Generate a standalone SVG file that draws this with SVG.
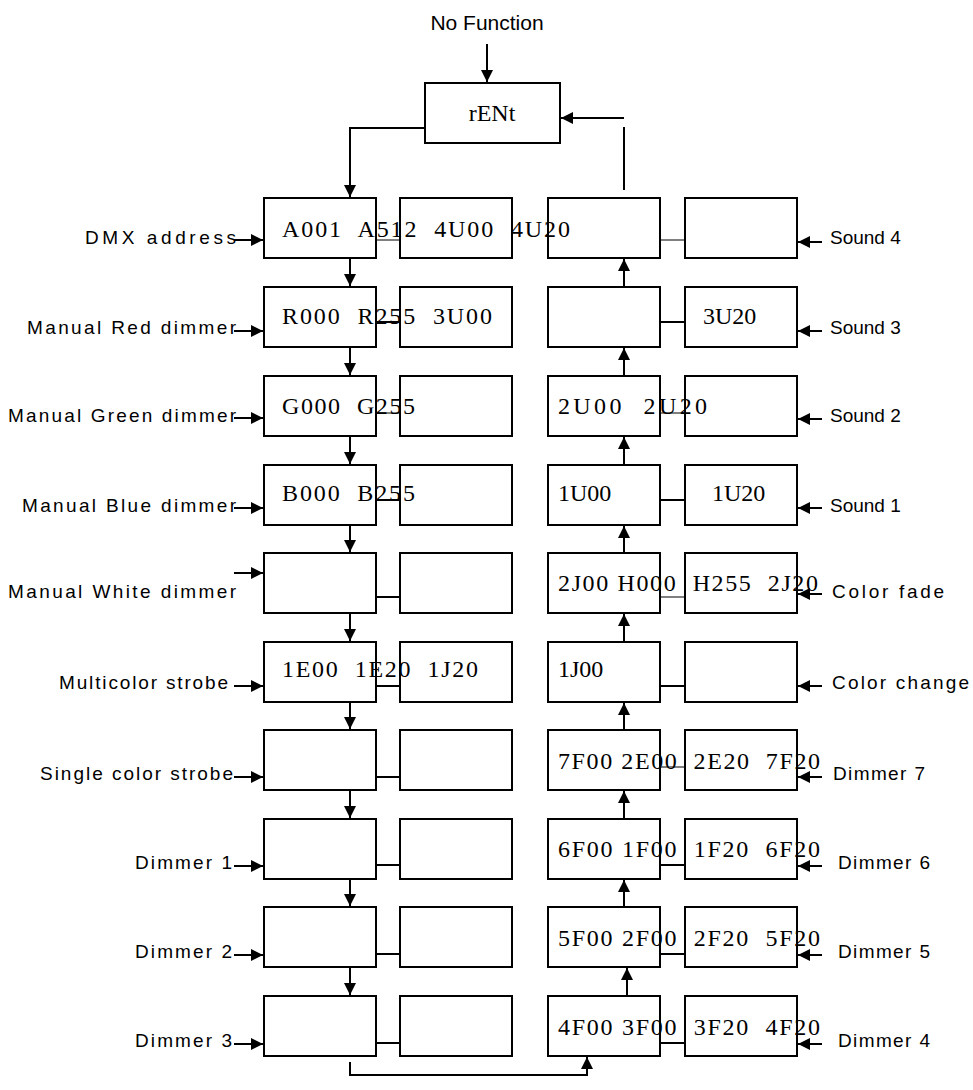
<svg xmlns="http://www.w3.org/2000/svg" width="973" height="1090" viewBox="0 0 973 1090">
<defs><marker id="b" viewBox="0 0 10 10" refX="10" refY="5" markerWidth="12" markerHeight="12" markerUnits="userSpaceOnUse" orient="auto"><path d="M0,0L10,5L0,10z" fill="#000"/></marker></defs>
<style>
rect{fill:#fff;stroke:#000;stroke-width:2}
.v{font-family:"Liberation Serif",serif;font-size:24px;white-space:pre}
.l{font-family:"Liberation Sans",sans-serif;font-size:19px}
.c{stroke:#000;stroke-width:2;fill:none}
.t{stroke:#000;stroke-width:1;fill:none}
</style>
<rect width="973" height="1090" style="fill:#fff;stroke:none"/>
<text class="l" x="487" y="30" text-anchor="middle" style="font-size:21px">No Function</text>
<g id="rent"><rect x="425" y="83" width="135" height="60"/><text class="v" x="492" y="121" text-anchor="middle">rENt</text></g>
<g id="nodes">
<rect x="264" y="198" width="112" height="60"/><rect x="400" y="198" width="112" height="60"/><rect x="548" y="198" width="112" height="60"/><rect x="685" y="198" width="112" height="60"/>
<rect x="264" y="287" width="112" height="60"/><rect x="400" y="287" width="112" height="60"/><rect x="548" y="287" width="112" height="60"/><rect x="685" y="287" width="112" height="60"/>
<rect x="264" y="376" width="112" height="60"/><rect x="400" y="376" width="112" height="60"/><rect x="548" y="376" width="112" height="60"/><rect x="685" y="376" width="112" height="60"/>
<rect x="264" y="465" width="112" height="60"/><rect x="400" y="465" width="112" height="60"/><rect x="548" y="465" width="112" height="60"/><rect x="685" y="465" width="112" height="60"/>
<rect x="264" y="553" width="112" height="60"/><rect x="400" y="553" width="112" height="60"/><rect x="548" y="553" width="112" height="60"/><rect x="685" y="553" width="112" height="60"/>
<rect x="264" y="642" width="112" height="60"/><rect x="400" y="642" width="112" height="60"/><rect x="548" y="642" width="112" height="60"/><rect x="685" y="642" width="112" height="60"/>
<rect x="264" y="730" width="112" height="60"/><rect x="400" y="730" width="112" height="60"/><rect x="548" y="730" width="112" height="60"/><rect x="685" y="730" width="112" height="60"/>
<rect x="264" y="819" width="112" height="60"/><rect x="400" y="819" width="112" height="60"/><rect x="548" y="819" width="112" height="60"/><rect x="685" y="819" width="112" height="60"/>
<rect x="264" y="907" width="112" height="60"/><rect x="400" y="907" width="112" height="60"/><rect x="548" y="907" width="112" height="60"/><rect x="685" y="907" width="112" height="60"/>
<rect x="264" y="996" width="112" height="60"/><rect x="400" y="996" width="112" height="60"/><rect x="548" y="996" width="112" height="60"/><rect x="685" y="996" width="112" height="60"/>
</g>
<g id="values">
<text class="v" x="282" y="237" textLength="288" lengthAdjust="spacing">A001  A512  4U00  4U20</text>
<text class="v" x="282" y="324" textLength="210" lengthAdjust="spacing">R000  R255  3U00</text>
<text class="v" x="703" y="324">3U20</text>
<text class="v" x="282" y="414" textLength="133" lengthAdjust="spacing">G000  G255</text>
<text class="v" x="558" y="414" textLength="149" lengthAdjust="spacing">2U00  2U20</text>
<text class="v" x="282" y="501" textLength="133" lengthAdjust="spacing">B000  B255</text>
<text class="v" x="558" y="501">1U00</text>
<text class="v" x="712" y="501">1U20</text>
<text class="v" x="558" y="591" textLength="260" lengthAdjust="spacing">2J00 H000  H255  2J20</text>
<text class="v" x="282" y="677" textLength="196" lengthAdjust="spacing">1E00  1E20  1J20</text>
<text class="v" x="558" y="677">1J00</text>
<text class="v" x="558" y="769" textLength="262" lengthAdjust="spacing">7F00 2E00  2E20  7F20</text>
<text class="v" x="558" y="857" textLength="262" lengthAdjust="spacing">6F00 1F00  1F20  6F20</text>
<text class="v" x="558" y="946" textLength="262" lengthAdjust="spacing">5F00 2F00  2F20  5F20</text>
<text class="v" x="558" y="1035" textLength="262" lengthAdjust="spacing">4F00 3F00  3F20  4F20</text>
</g>
<g id="labels">
<text class="l" x="85" y="244" textLength="151">DMX address</text>
<text class="l" x="27" y="334" textLength="209">Manual Red dimmer</text>
<text class="l" x="8" y="422" textLength="228">Manual Green dimmer</text>
<text class="l" x="22" y="512" textLength="214">Manual Blue dimmer</text>
<text class="l" x="8" y="598" textLength="228">Manual White dimmer</text>
<text class="l" x="59" y="689" textLength="169">Multicolor strobe</text>
<text class="l" x="40" y="780" textLength="193">Single color strobe</text>
<text class="l" x="135" y="869" textLength="97">Dimmer 1</text>
<text class="l" x="135" y="958" textLength="97">Dimmer 2</text>
<text class="l" x="135" y="1047" textLength="97">Dimmer 3</text>
<text class="l" x="830" y="244">Sound 4</text>
<text class="l" x="830" y="334">Sound 3</text>
<text class="l" x="830" y="422">Sound 2</text>
<text class="l" x="830" y="512">Sound 1</text>
<text class="l" x="832" y="598" textLength="112">Color fade</text>
<text class="l" x="832" y="689" textLength="137">Color change</text>
<text class="l" x="833" y="780" textLength="92">Dimmer 7</text>
<text class="l" x="838" y="869" textLength="92">Dimmer 6</text>
<text class="l" x="838" y="958" textLength="92">Dimmer 5</text>
<text class="l" x="838" y="1047" textLength="92">Dimmer 4</text>
</g>
<g id="connectors">
<path class="c" d="M487 44V82" marker-end="url(#b)"/>
<path class="c" d="M425 128H350V197" marker-end="url(#b)"/>
<path class="c" d="M624 190V127M624 118H561" marker-end="url(#b)"/>
<path class="c" d="M350 1062V1075H587V1057" marker-end="url(#b)"/>
<g marker-end="url(#b)" class="c">
<path d="M350 259V286"/><path d="M350 348V375"/><path d="M350 437V464"/><path d="M350 526V552"/><path d="M350 614V641"/><path d="M350 703V729"/><path d="M350 791V818"/><path d="M350 880V906"/><path d="M350 968V995"/>
<path d="M624 286V259"/><path d="M624 375V348"/><path d="M624 464V437"/><path d="M624 552V526"/><path d="M624 641V614"/><path d="M624 729V703"/><path d="M624 818V791"/><path d="M624 906V880"/><path d="M627 995V968"/>
<path d="M234 240H263"/><path d="M234 331H263"/><path d="M234 418H263"/><path d="M234 508H263"/><path d="M234 573H263"/><path d="M234 686H263"/><path d="M234 777H263"/><path d="M234 866H263"/><path d="M234 955H263"/><path d="M234 1044H263"/>
<path d="M822 242H798"/><path d="M822 331H798"/><path d="M822 419H798"/><path d="M822 508H798"/><path d="M822 594H798"/><path d="M822 686H798"/><path d="M822 777H798"/><path d="M822 866H798"/><path d="M822 955H798"/><path d="M822 1044H798"/>
</g>
<path class="t" d="M376 240H400M660 240H685M376 413H400M660 413H685M660 597H685M660 767H685"/>
<path class="c" d="M376 322H400M660 322H685M376 500H400M660 500H685M376 597H400M376 686H400M660 686H685M376 777H400M376 865H400M660 865H685M376 954H400M660 954H685M376 1043H400M660 1043H685"/>
</g>
</svg>
